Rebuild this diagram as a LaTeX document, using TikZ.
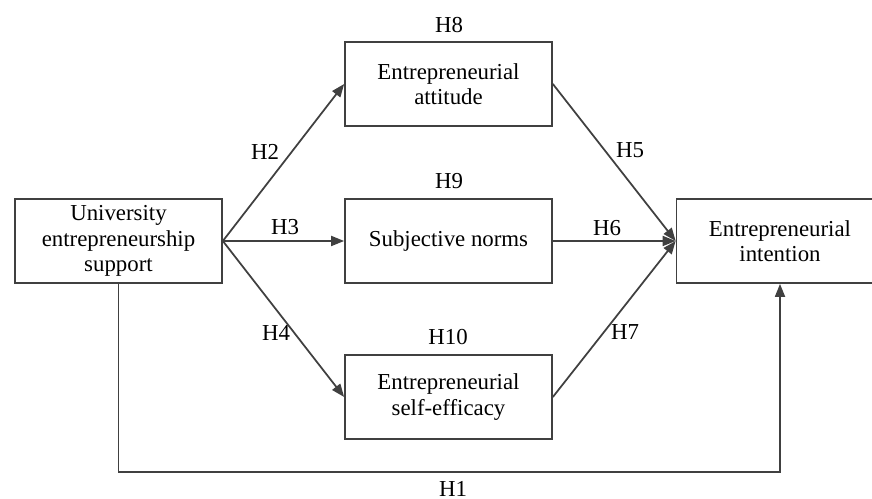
\documentclass[tikz,border=0pt]{standalone}
\usepackage{fontspec}
\setmainfont{Liberation Serif}
\usetikzlibrary{arrows.meta}

\definecolor{linegray}{HTML}{404040}

\tikzset{
    box/.style={draw=linegray, line width=1pt, fill=white,
        minimum width=4.14cm, minimum height=1.68cm, align=center,
        inner sep=2pt, font=\fontsize{13}{14.5}\selectfont},
    hyp/.style={font=\fontsize{13}{14.5}\selectfont, inner sep=1pt},
    link/.style={draw=linegray, line width=1pt, ->}
}

\begin{document}
\begin{tikzpicture}[x=0.02cm, y=-0.02cm, >={Triangle[length=2.6mm, width=2mm]}]
        % --- Cadre de l'image ---
        \useasboundingbox (0,0) rectangle (872,499);

        % ==============================================================
        % 1. BLOCS (variables du modèle)
        % ==============================================================
        \node[box] (usup)   at (118.5, 241)  {University\\entrepreneurship\\support};
        \node[box] (att)    at (448.5, 84)   {Entrepreneurial\\attitude};
        \node[box] (norms)  at (448.5, 241)  {Subjective norms};
        \node[box] (eff)    at (448.5, 397)  {Entrepreneurial\\self-efficacy};
        \node[box] (intent) at (780, 241)    {Entrepreneurial\\intention};

        % Ligne de base du lien direct H1
        \coordinate (base) at (0, 472);

        % ==============================================================
        % 2. LIENS (hypothèses)
        % ==============================================================
        % Soutien -> médiateurs
        \draw[link] (usup.east) -- (att.west);
        \draw[link] (usup.east) -- (norms.west);
        \draw[link] (usup.east) -- (eff.west);

        % Médiateurs -> intention
        \draw[link] (att.east)   -- (intent.west);
        \draw[link] (norms.east) -- (intent.west);
        \draw[link] (eff.east)   -- (intent.west);

        % Lien direct (en bas)
        \draw[link] (usup.south) |- (base -| intent.south) -- (intent.south);

        % ==============================================================
        % 3. ÉTIQUETTES
        % ==============================================================
        \node[hyp] (lH1)  at (453, 489)   {H1};
        \node[hyp] (lH2)  at (265, 151.5) {H2};
        \node[hyp] (lH3)  at (285, 227)   {H3};
        \node[hyp] (lH4)  at (276, 333)   {H4};
        \node[hyp] (lH5)  at (630, 150)   {H5};
        \node[hyp] (lH6)  at (607, 228)   {H6};
        \node[hyp] (lH7)  at (625, 332)   {H7};
        \node[hyp] (lH8)  at (449, 25)    {H8};
        \node[hyp] (lH9)  at (449, 181)   {H9};
        \node[hyp] (lH10) at (448, 337)   {H10};
    \end{tikzpicture}
\end{document}
